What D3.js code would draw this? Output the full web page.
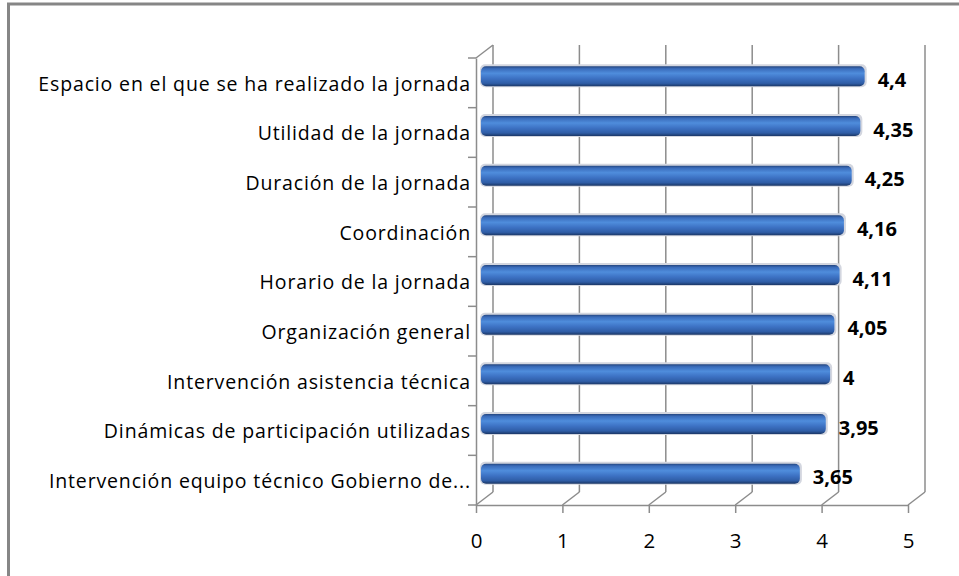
<!DOCTYPE html>
<html>
<head>
<meta charset="utf-8">
<script src="https://cdn.jsdelivr.net/npm/d3@7"></script>
<style>
  body { margin: 0; background: #fff; }
  svg text { font-family: "Open Sans", Lato, sans-serif; }
</style>
</head>
<body>
<svg id="chart" width="959" height="576"></svg>
<script>
const categories = [
  'Espacio en el que se ha realizado la jornada',
  'Utilidad de la jornada',
  'Duración de la jornada',
  'Coordinación',
  'Horario de la jornada',
  'Organización general',
  'Intervención asistencia técnica',
  'Dinámicas de participación utilizadas',
  'Intervención equipo técnico Gobierno de...'
]
const values = [4.4, 4.35, 4.25, 4.16, 4.11, 4.05, 4, 3.95, 3.65]
const xTicks = [0, 1, 2, 3, 4, 5]

const data = categories.map((c, i) => ({ category: c, value: values[i] }))

const root = d3.select('#chart')
const fmt = d3.formatLocale({ decimal: ',', thousands: '.', grouping: [3], currency: ['', ''] }).format('~g')

const plot = { left: 476, right: 908, top: 58, bottom: 505 }
const depth = { dx: 17, dy: -13 }
const gridColor = '#8c8c8c'

// outer frame (runs off the right and bottom edges)
root.append('rect')
  .attr('x', 8.5).attr('y', 4)
  .attr('width', 980).attr('height', 600)
  .attr('fill', 'none')
  .attr('stroke', '#868686')
  .attr('stroke-width', 3)

const x = d3.scaleLinear()
  .domain([0, 5])
  .range([plot.left, plot.right])

const y = d3.scaleBand()
  .domain(categories)
  .range([plot.top, plot.bottom])

const barH = 20

const defs = root.append('defs')
const grad = defs.append('linearGradient')
  .attr('id', 'bar-gradient')
  .attr('x1', 0).attr('y1', 0)
  .attr('x2', 0).attr('y2', 1)
grad.selectAll('stop')
  .data([
    { offset: '0%', color: '#24467f' },
    { offset: '12%', color: '#3a6cbb' },
    { offset: '35%', color: '#4f8ddc' },
    { offset: '60%', color: '#3d72c4' },
    { offset: '85%', color: '#2f5da6' },
    { offset: '100%', color: '#1b3766' }
  ])
  .enter().append('stop')
  .attr('offset', d => d.offset)
  .attr('stop-color', d => d.color)

// back wall gridlines
root.append('g')
  .attr('class', 'grid')
  .selectAll('line')
  .data(xTicks)
  .enter().append('line')
  .attr('x1', d => x(d) + depth.dx).attr('x2', d => x(d) + depth.dx)
  .attr('y1', plot.top + depth.dy).attr('y2', plot.bottom + depth.dy)
  .attr('stroke', gridColor)
  .attr('stroke-width', 1.5)

// floor diagonals
root.append('g')
  .selectAll('line')
  .data(xTicks)
  .enter().append('line')
  .attr('x1', d => x(d)).attr('y1', plot.bottom)
  .attr('x2', d => x(d) + depth.dx).attr('y2', plot.bottom + depth.dy)
  .attr('stroke', gridColor)
  .attr('stroke-width', 1.5)

// left wall top diagonal
root.append('line')
  .attr('x1', plot.left).attr('y1', plot.top)
  .attr('x2', plot.left + depth.dx).attr('y2', plot.top + depth.dy)
  .attr('stroke', gridColor)
  .attr('stroke-width', 1.5)

// category axis
const yAxis = g => g
  .attr('transform', `translate(${plot.left},0)`)
  .call(d3.axisLeft(y).tickSize(0).tickPadding(5))
  .call(g => g.select('.domain').attr('stroke', gridColor).attr('stroke-width', 1.5))
  .call(g => g.selectAll('text')
    .attr('fill', '#000')
    .attr('font-size', 19.5)
    .attr('letter-spacing', 0.85)
    .attr('font-family', '"Open Sans", Lato, sans-serif')
    .attr('dy', '0.4em'))

root.append('g').attr('class', 'yAxis').call(yAxis)

// band separators on the category axis
root.append('g')
  .selectAll('line')
  .data(d3.range(categories.length + 1))
  .enter().append('line')
  .attr('x1', plot.left - 8).attr('x2', plot.left)
  .attr('y1', i => plot.top + i * y.step())
  .attr('y2', i => plot.top + i * y.step())
  .attr('stroke', gridColor)
  .attr('stroke-width', 1.5)

// value axis
const xAxis = g => g
  .attr('transform', `translate(0,${plot.bottom})`)
  .call(d3.axisBottom(x).tickValues(xTicks).tickFormat(fmt).tickSize(8).tickPadding(20).tickSizeOuter(0))
  .call(g => g.select('.domain').attr('stroke', gridColor).attr('stroke-width', 1.5))
  .call(g => g.selectAll('.tick line').attr('stroke', gridColor).attr('stroke-width', 1.5))
  .call(g => g.selectAll('text')
    .attr('fill', '#000')
    .attr('font-size', 20.5)
    .attr('font-family', '"Open Sans", Lato, sans-serif'))

root.append('g').attr('class', 'xAxis').call(xAxis)

// bars
const barY = d => y(d.category) + y.bandwidth() / 2 + depth.dy / 2 - barH / 2
const barX0 = x(0) + 5
const barX1 = d => x(d.value) + depth.dx / 2

const bars = root.append('g').attr('class', 'bars')

bars.selectAll('.barShadow')
  .data(data)
  .enter().append('rect')
  .attr('class', 'barShadow')
  .attr('x', barX0 - 1)
  .attr('y', d => barY(d) - 2)
  .attr('width', d => barX1(d) - barX0 + 3)
  .attr('height', barH + 3)
  .attr('rx', 5)
  .attr('fill', '#d3d6df')

bars.selectAll('.bar')
  .data(data)
  .enter().append('rect')
  .attr('class', 'bar')
  .attr('x', barX0)
  .attr('y', barY)
  .attr('width', d => barX1(d) - barX0)
  .attr('height', barH)
  .attr('rx', 5)
  .attr('fill', 'url(#bar-gradient)')

// value labels
root.append('g')
  .selectAll('text')
  .data(data)
  .enter().append('text')
  .attr('x', d => barX1(d) + 13)
  .attr('y', d => y(d.category) + y.bandwidth() / 2 - 3)
  .attr('dy', '0.36em')
  .attr('font-size', 20)
  .attr('font-weight', 'bold')
  .attr('fill', '#000')
  .text(d => fmt(d.value))
</script>
</body>
</html>
